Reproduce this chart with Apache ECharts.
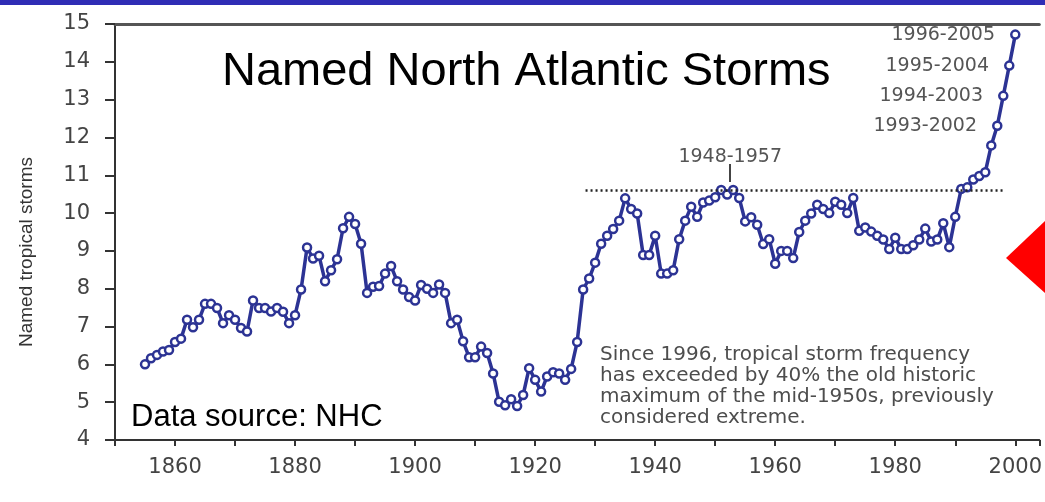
<!DOCTYPE html>
<html>
<head>
<meta charset="utf-8">
<title>Named North Atlantic Storms</title>
<script src="https://cdn.jsdelivr.net/npm/echarts@6/dist/echarts.min.js"></script>
<style>
    html, body { margin: 0; padding: 0; background: #fff; }
    #main { width: 1045px; height: 502px; }
</style>
</head>
<body>
<div id="main"></div>
<script>
// 10-year running mean, plotted at the 5th year of each window (1851-1860 -> 1855)
var startYear = 1855;
var storms = [
    6.0, 6.16, 6.25, 6.34, 6.38, 6.59, 6.68, 7.18, 6.98, 7.18,
    7.6, 7.6, 7.49, 7.09, 7.3, 7.18, 6.96, 6.87, 7.69, 7.49,
    7.49, 7.4, 7.49, 7.39, 7.09, 7.3, 7.98, 9.09, 8.8, 8.87,
    8.2, 8.49, 8.78, 9.6, 9.9, 9.71, 9.19, 7.89, 8.05, 8.07,
    8.4, 8.6, 8.2, 7.98, 7.78, 7.69, 8.1, 8.0, 7.89, 8.11,
    7.89, 7.09, 7.18, 6.61, 6.19, 6.19, 6.47, 6.3, 5.76, 5.01,
    4.92, 5.08, 4.9, 5.19, 5.9, 5.59, 5.28, 5.68, 5.79, 5.76,
    5.59, 5.88, 6.59, 7.98, 8.27, 8.69, 9.19, 9.4, 9.58, 9.8,
    10.39, 10.11, 9.99, 8.89, 8.89, 9.4, 8.4, 8.4, 8.49, 9.31,
    9.8, 10.17, 9.9, 10.28, 10.33, 10.42, 10.61, 10.49, 10.61, 10.4,
    9.78, 9.89, 9.69, 9.18, 9.31, 8.66, 9.0, 9.0, 8.81, 9.5,
    9.8, 9.99, 10.22, 10.11, 10.0, 10.3, 10.22, 10.0, 10.4, 9.53,
    9.62, 9.51, 9.4, 9.3, 9.05, 9.35, 9.05, 9.05, 9.15, 9.3,
    9.59, 9.25, 9.3, 9.73, 9.1, 9.9, 10.64, 10.68, 10.89, 10.98,
    11.08, 11.79, 12.31, 13.1, 13.9, 14.72
];

// labelled windows at the end of the curve
var labelYears = [1997, 1998, 1999, 2000];
var labelTexts = ['1993-2002', '1994-2003', '1995-2004', '1996-2005'];

// old maximum (1948-1957) reference line
var oldMax = 10.6;
var oldMaxYear = 1952.5;
var oldMaxText = '1948-1957';
var refLineFrom = 1928.4;
var refLineTo = 1998;

var xMin = 1850, xMax = 2004;
var yMin = 4, yMax = 15;

var noteText = 'Since 1996, tropical storm frequency\nhas exceeded by 40% the old historic\nmaximum of the mid-1950s, previously\nconsidered extreme.';

var tickFont = '"DejaVu Sans", sans-serif';
var navy = '#2c3394';

var seriesData = [];
for (var i = 0; i < storms.length; i++) {
    var yr = startYear + i;
    var k = labelYears.indexOf(yr);
    if (k >= 0) {
        seriesData.push({
            value: [yr, storms[i]],
            label: {
                show: true,
                position: 'left',
                distance: 15,
                formatter: labelTexts[k],
                fontFamily: tickFont,
                fontSize: 19,
                color: '#555'
            }
        });
    } else {
        seriesData.push([yr, storms[i]]);
    }
}

var myChart = echarts.init(document.getElementById('main'));

var option = {
    animation: false,
    title: {
        text: 'Named North Atlantic Storms',
        left: 222,
        top: 49,
        padding: 0,
        textStyle: {
            fontFamily: '"Liberation Sans", Arial, sans-serif',
            fontSize: 47,
            fontWeight: 'normal',
            color: '#000'
        }
    },
    grid: { left: 115, right: 0, top: 24, bottom: 62 },
    xAxis: [{
        type: 'value',
        min: xMin,
        max: xMax,
        interval: 10,
        axisLine: { onZero: false, lineStyle: { color: '#333', width: 2 } },
        axisTick: { length: 6, lineStyle: { color: '#333', width: 2 } },
        axisLabel: {
            margin: 17,
            fontFamily: tickFont,
            fontSize: 21,
            color: '#444',
            formatter: function (v) {
                return (v % 20 === 0 && v > xMin) ? String(v) : '';
            }
        },
        splitLine: { show: false }
    }, {
        // top frame line
        type: 'value',
        position: 'top',
        min: xMin,
        max: xMax,
        axisLine: { onZero: false, lineStyle: { color: '#555', width: 3 } },
        axisTick: { show: false },
        axisLabel: { show: false },
        splitLine: { show: false }
    }],
    yAxis: {
        type: 'value',
        min: yMin,
        max: yMax,
        interval: 1,
        axisLine: { show: true, onZero: false, lineStyle: { color: '#333', width: 2 } },
        axisTick: { show: true, length: 10, lineStyle: { color: '#333', width: 2 } },
        axisLabel: {
            margin: 25,
            fontFamily: tickFont,
            fontSize: 21,
            color: '#444'
        },
        splitLine: { show: false }
    },
    series: [{
        type: 'line',
        data: seriesData,
        symbol: 'circle',
        symbolSize: 8,
        showAllSymbol: true,
        lineStyle: { color: navy, width: 3.5 },
        itemStyle: { color: '#fff', borderColor: navy, borderWidth: 2.5 },
        z: 3,
        markLine: {
            silent: true,
            symbol: 'none',
            label: { show: false },
            data: [
                [
                    { coord: [refLineFrom, oldMax], lineStyle: { color: '#222', width: 2.5, type: [2, 3] } },
                    { coord: [refLineTo, oldMax] }
                ],
                [
                    { coord: [oldMaxYear, 10.82], lineStyle: { color: '#444', width: 2, type: 'solid' } },
                    { coord: [oldMaxYear, 11.3] }
                ]
            ]
        },
        markPoint: {
            silent: true,
            symbol: 'circle',
            symbolSize: 1,
            itemStyle: { color: 'rgba(0,0,0,0)' },
            data: [{
                coord: [oldMaxYear, 11.47],
                label: {
                    show: true,
                    position: 'inside',
                    formatter: oldMaxText,
                    fontFamily: tickFont,
                    fontSize: 19,
                    color: '#555'
                }
            }]
        }
    }],
    graphic: [
        {
            // blue slide bar at the very top
            type: 'rect',
            left: 0,
            top: 0,
            shape: { width: 1045, height: 5 },
            style: { fill: '#2f2db5' }
        },
        {
            type: 'polygon',
            shape: { points: [[1006, 258], [1045, 221], [1045, 293]] },
            style: { fill: '#ff0000' },
            z: 10
        },
        {
            type: 'text',
            left: 600,
            top: 344,
            style: {
                text: noteText,
                font: '20px "DejaVu Sans", sans-serif',
                fill: '#4d4d4d',
                lineHeight: 21
            }
        },
        {
            type: 'text',
            left: 131,
            top: 402,
            style: {
                text: 'Data source: NHC',
                font: '31px "Liberation Sans", Arial, sans-serif',
                fill: '#000'
            }
        },
        {
            type: 'text',
            x: 27,
            y: 252,
            rotation: Math.PI / 2,
            style: {
                text: 'Named tropical storms',
                font: '19px "Liberation Sans", Arial, sans-serif',
                fill: '#333',
                align: 'center',
                verticalAlign: 'middle'
            }
        }
    ]
};

myChart.setOption(option);
</script>
</body>
</html>
